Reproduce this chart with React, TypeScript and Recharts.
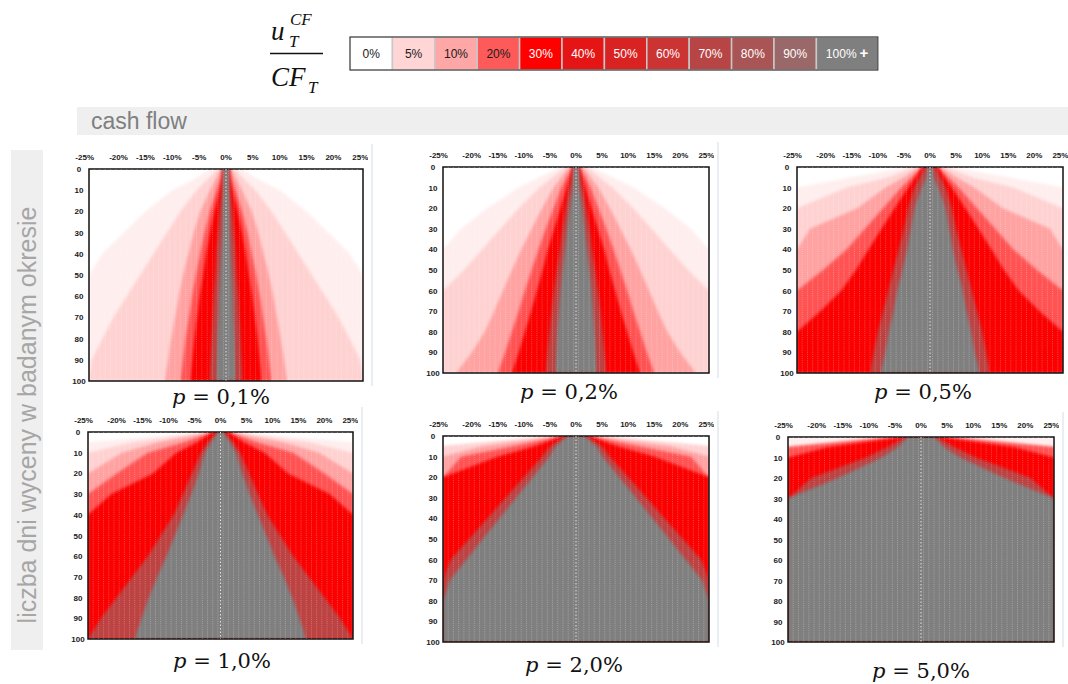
import React from "react";
import { ComposedChart, Area, XAxis, YAxis, ReferenceLine, ReferenceArea } from "recharts";

// rows (days of valuation)
const days = [0, 5, 10, 20, 30, 40, 50, 60, 70, 80, 90, 100];
const xTicks = [-25, -20, -15, -10, -5, 0, 5, 10, 15, 20, 25];
const dayTicks = [0, 10, 20, 30, 40, 50, 60, 70, 80, 90, 100];
// cell borders of the 1%-wide columns (-25% ... 25%)
const cellEdges = Array.from({ length: 50 }, (_, i) => -24.5 + i);

// u/CF thresholds (%) and the colour used above each one
const levels = [2.5, 5, 10, 20, 30, 60, 100];
const levelFills = ["#ffeeee", "#ffd2d2", "#ffa2a2", "#ff5252", "#fa0606", "#bd4242", "#7f7f7f"];

const legendLabels = ["0%", "5%", "10%", "20%", "30%", "40%", "50%", "60%", "70%", "80%", "90%", "100%"];
const legendFills = ["#ffffff", "#ffd5d5", "#ffa6a6", "#ff5a5a", "#ff0000", "#e51515", "#d92222", "#cc3333", "#b84545", "#aa5555", "#9a6868", "#7f7f7f"];

// half-width (% shift) where u/CF >= level, one list per level, per day
const wP01 = [
  [3, 6, 10, 15, 19, 23, 25.5, 25.5, 25.5, 25.5, 25.5, 25.5],
  [1.5, 3.5, 5.5, 8.5, 11, 13.5, 16, 18.5, 21, 23, 25, 25.5],
  [1, 2, 3, 4.8, 6, 7, 8, 8.8, 9.5, 10.2, 10.8, 11.4],
  [0.7, 1.2, 1.8, 3, 4, 4.8, 5.6, 6.3, 6.9, 7.5, 8, 8.5],
  [0.5, 0.7, 1.2, 2.2, 3, 3.7, 4.3, 4.9, 5.4, 5.9, 6.3, 6.7],
  [0.5, 0.6, 0.8, 1.2, 1.5, 1.8, 2, 2.3, 2.5, 2.7, 2.9, 3.1],
  [0.5, 0.5, 0.5, 0.6, 0.7, 0.9, 1.1, 1.3, 1.4, 1.6, 1.7, 1.8],
];
const wP02 = [
  [3, 7, 11, 17, 22, 25.5, 25.5, 25.5, 25.5, 25.5, 25.5, 25.5],
  [2, 4.5, 7, 11, 14.5, 18, 21.5, 25.5, 25.5, 25.5, 25.5, 25.5],
  [1.3, 2.8, 4.3, 6.5, 8.5, 10.5, 12.3, 14, 15.7, 17.5, 20, 23],
  [0.8, 1.8, 2.8, 4.3, 5.8, 7.2, 8.5, 9.8, 11, 12.3, 13.6, 15],
  [0.5, 1.2, 1.8, 3, 4.2, 5.4, 6.4, 7.5, 8.6, 9.8, 11, 12.3],
  [0.5, 0.9, 1.3, 2, 2.6, 3.1, 3.7, 4.2, 4.7, 5.1, 5.5, 5.8],
  [0.5, 0.5, 0.6, 1.2, 1.7, 2.1, 2.6, 3, 3.3, 3.6, 3.8, 4],
];
const wP05 = [
  [4, 15, 25.5, 25.5, 25.5, 25.5, 25.5, 25.5, 25.5, 25.5, 25.5, 25.5],
  [3, 8, 16, 25.5, 25.5, 25.5, 25.5, 25.5, 25.5, 25.5, 25.5, 25.5],
  [2, 5, 8.5, 14, 23, 25.5, 25.5, 25.5, 25.5, 25.5, 25.5, 25.5],
  [1.5, 3.5, 5.5, 9, 12.5, 16, 20.5, 25.5, 25.5, 25.5, 25.5, 25.5],
  [1.5, 2.8, 4.2, 6.8, 9.3, 11.8, 14.2, 17, 21, 25.5, 25.5, 25.5],
  [1, 2, 3, 4.2, 5, 6, 7, 8, 9, 10, 10.8, 11.5],
  [0.5, 0.7, 1.6, 3, 3.7, 4.4, 5.3, 6.3, 7, 7.9, 8.6, 9.5],
];
const wP10 = [
  [3, 25.5, 25.5, 25.5, 25.5, 25.5, 25.5, 25.5, 25.5, 25.5, 25.5, 25.5],
  [2, 17, 25.5, 25.5, 25.5, 25.5, 25.5, 25.5, 25.5, 25.5, 25.5, 25.5],
  [1.5, 12, 19, 25.5, 25.5, 25.5, 25.5, 25.5, 25.5, 25.5, 25.5, 25.5],
  [1.5, 7, 14, 20, 25.5, 25.5, 25.5, 25.5, 25.5, 25.5, 25.5, 25.5],
  [1.5, 4.5, 8.5, 13, 21, 25.5, 25.5, 25.5, 25.5, 25.5, 25.5, 25.5],
  [0.5, 2.5, 3.8, 5.5, 7.2, 9, 11.5, 14, 17, 20, 23, 25.5],
  [0.5, 1.8, 3, 4.2, 5.6, 7.2, 8.8, 10.4, 12.2, 13.8, 15.2, 16.5],
];
const wP20 = [
  [6, 25.5, 25.5, 25.5, 25.5, 25.5, 25.5, 25.5, 25.5, 25.5, 25.5, 25.5],
  [4, 25.5, 25.5, 25.5, 25.5, 25.5, 25.5, 25.5, 25.5, 25.5, 25.5, 25.5],
  [3, 18, 25.5, 25.5, 25.5, 25.5, 25.5, 25.5, 25.5, 25.5, 25.5, 25.5],
  [2.5, 12, 22, 25.5, 25.5, 25.5, 25.5, 25.5, 25.5, 25.5, 25.5, 25.5],
  [2.5, 8, 15, 25.5, 25.5, 25.5, 25.5, 25.5, 25.5, 25.5, 25.5, 25.5],
  [2, 5, 6.5, 10, 13.5, 17, 20.5, 24, 25.5, 25.5, 25.5, 25.5],
  [1.5, 3.9, 5.1, 8.3, 11.5, 14.7, 17.9, 21, 24.2, 25.5, 25.5, 25.5],
];
const wP50 = [
  [25.5, 25.5, 25.5, 25.5, 25.5, 25.5, 25.5, 25.5, 25.5, 25.5, 25.5, 25.5],
  [10, 25.5, 25.5, 25.5, 25.5, 25.5, 25.5, 25.5, 25.5, 25.5, 25.5, 25.5],
  [5, 25.5, 25.5, 25.5, 25.5, 25.5, 25.5, 25.5, 25.5, 25.5, 25.5, 25.5],
  [4, 25.5, 25.5, 25.5, 25.5, 25.5, 25.5, 25.5, 25.5, 25.5, 25.5, 25.5],
  [3.5, 18, 25.5, 25.5, 25.5, 25.5, 25.5, 25.5, 25.5, 25.5, 25.5, 25.5],
  [3, 6.5, 10.5, 21, 25.5, 25.5, 25.5, 25.5, 25.5, 25.5, 25.5, 25.5],
  [2.5, 4.5, 7.5, 16, 25.5, 25.5, 25.5, 25.5, 25.5, 25.5, 25.5, 25.5],
];

const panelTitles = ["0,1%", "0,2%", "0,5%", "1,0%", "2,0%", "5,0%"];
const panelWidths = [wP01, wP02, wP05, wP10, wP20, wP50];

// plot rectangles on the page
const frames = [
  { left: 89, top: 169, w: 274, h: 212, tx: 221, ty: 404 },
  { left: 443, top: 167, w: 266, h: 206, tx: 569, ty: 399 },
  { left: 797, top: 167, w: 266, h: 206, tx: 923, ty: 399 },
  { left: 88, top: 432, w: 265, h: 207, tx: 222, ty: 668 },
  { left: 443, top: 436, w: 266, h: 206, tx: 574, ty: 672 },
  { left: 788, top: 437, w: 266, h: 205, tx: 921, ty: 678 },
];

const tickFont = "'Liberation Sans', Arial, sans-serif";

const XTick = (props: any) => {
  const { x, y, payload } = props;
  const shift = payload.value === -25 ? -7 : 0;
  return (
    <text x={x + shift} y={y - 1} textAnchor="middle" fontSize={8} fontWeight="bold" fontFamily={tickFont} fill="#1a1a1a">
      {payload.value}%
    </text>
  );
};

const YTick = (props: any) => {
  const { x, y, payload } = props;
  return (
    <text x={x - 2} y={y + 3} textAnchor="middle" fontSize={8} fontWeight="bold" fontFamily={tickFont} fill="#1a1a1a">
      {payload.value}
    </text>
  );
};

function Heatmap({ widths, frame }: any) {
  const rows = days.map((day, i) => {
    const r: any = { day };
    levels.forEach((_, k) => {
      r["w" + k] = widths[k][i];
    });
    return r;
  });

  return (
    <div style={{ position: "absolute", left: frame.left - 30, top: frame.top - 25 }}>
      <ComposedChart
        layout="vertical"
        width={frame.w + 35}
        height={frame.h + 30}
        data={rows}
        margin={{ top: 5, right: 5, bottom: 5, left: 0 }}
      >
        <XAxis
          type="number"
          orientation="top"
          domain={[-25.5, 25.5]}
          ticks={xTicks}
          interval={0}
          allowDataOverflow
          axisLine={false}
          tickLine={false}
          tickSize={6}
          tickMargin={2}
          height={20}
          tick={XTick}
        />
        <YAxis
          type="number"
          dataKey="day"
          domain={[0, 100]}
          ticks={dayTicks}
          interval={0}
          allowDataOverflow
          axisLine={false}
          tickLine={false}
          tickSize={6}
          tickMargin={2}
          width={30}
          tick={YTick}
        />
        {levels.map((_, k) => (
          <Area
            key={k}
            dataKey={(r: any) => [-r["w" + k], r["w" + k]]}
            type="linear"
            stroke="none"
            fill={levelFills[k]}
            fillOpacity={1}
            filter="url(#soft)"
            dot={false}
            activeDot={false}
            isAnimationActive={false}
          />
        ))}
        {cellEdges.map((v) => (
          <ReferenceLine key={v} x={v} stroke="#ffffff" strokeOpacity={0.28} strokeDasharray="1 1.1" />
        ))}
        <ReferenceLine x={0} stroke="#e4e4e4" strokeDasharray="1.5 2" />
        <ReferenceArea x1={-25.5} x2={25.5} y1={0} y2={100} fill="none" stroke="#111" strokeWidth={1.5} ifOverflow="visible" />
      </ComposedChart>
    </div>
  );
}

export default function App() {
  const cellW = 42.4;
  const lastW = 61.4;

  return (
    <div style={{ position: "absolute", left: 0, top: 0, width: 1068, height: 684, background: "#fff", overflow: "hidden" }}>
      <svg width={1068} height={684} style={{ position: "absolute", left: 0, top: 0 }}>
        <defs>
          <filter id="soft" x="0" y="0" width="1" height="1">
            <feGaussianBlur stdDeviation="1.8" edgeMode="duplicate" />
          </filter>
        </defs>

        {/* fraction u_T^CF / CF_T */}
        <g fontFamily="'Liberation Serif', 'Times New Roman', serif" fontStyle="italic" fill="#111">
          <text x={271} y={40} fontSize={27}>u</text>
          <text x={290} y={25} fontSize={17}>CF</text>
          <text x={289} y={47} fontSize={17}>T</text>
          <line x1={270} x2={323} y1={53.5} y2={53.5} stroke="#111" strokeWidth={1.3} />
          <text x={271} y={86} fontSize={27}>CF</text>
          <text x={308} y={93} fontSize={17}>T</text>
        </g>

        {/* colour scale */}
        {legendLabels.map((lab, i) => {
          const x = 350 + i * cellW;
          const w = i === legendLabels.length - 1 ? lastW : cellW;
          return (
            <g key={lab}>
              <rect x={x} y={37} width={w} height={33} fill={legendFills[i]} stroke="#c8c8c8" strokeWidth={1.5} />
              <text
                x={x + w / 2}
                y={58}
                textAnchor="middle"
                fontSize={12}
                fontFamily={tickFont}
                fill={i < 4 ? "#1a1a1a" : "#ffffff"}
              >
                {lab}
                {i === legendLabels.length - 1 && (
                  <tspan fontWeight="bold" fontSize={15} dx={3}>+</tspan>
                )}
              </text>
            </g>
          );
        })}
        <rect x={350} y={37} width={cellW * 11 + lastW} height={33} fill="none" stroke="#333" strokeWidth={1} />

        {/* cash flow band */}
        <rect x={77} y={107} width={991} height={28} fill="#efefef" />
        <text x={91} y={129} fontSize={23} fontFamily={tickFont} fill="#7f7f7f">cash flow</text>

        {/* vertical axis title */}
        <rect x={11} y={150} width={32} height={500} fill="#efefef" />
        <text
          x={27}
          y={415}
          transform="rotate(-90 27 415)"
          textAnchor="middle"
          dominantBaseline="central"
          fontSize={25}
          fontFamily={tickFont}
          fill="#a6a6a6"
        >
          liczba dni wyceny w badanym okresie
        </text>

        {/* panel titles */}
        {frames.map((f, i) => (
          <text key={i} x={f.tx} y={f.ty} textAnchor="middle" fontSize={21} fontFamily="'DejaVu Serif', serif" fill="#111">
            <tspan fontStyle="italic">p</tspan> = {panelTitles[i]}
          </text>
        ))}

        {/* faint chart-area edges */}
        {frames.map((f, i) => (
          <line key={"e" + i} x1={f.left + f.w + 9} x2={f.left + f.w + 9} y1={f.top - 25} y2={f.top + f.h + 5} stroke="#e2e8f0" strokeWidth={1.5} />
        ))}
      </svg>

      {frames.map((f, i) => (
        <Heatmap key={i} widths={panelWidths[i]} frame={f} />
      ))}
    </div>
  );
}
